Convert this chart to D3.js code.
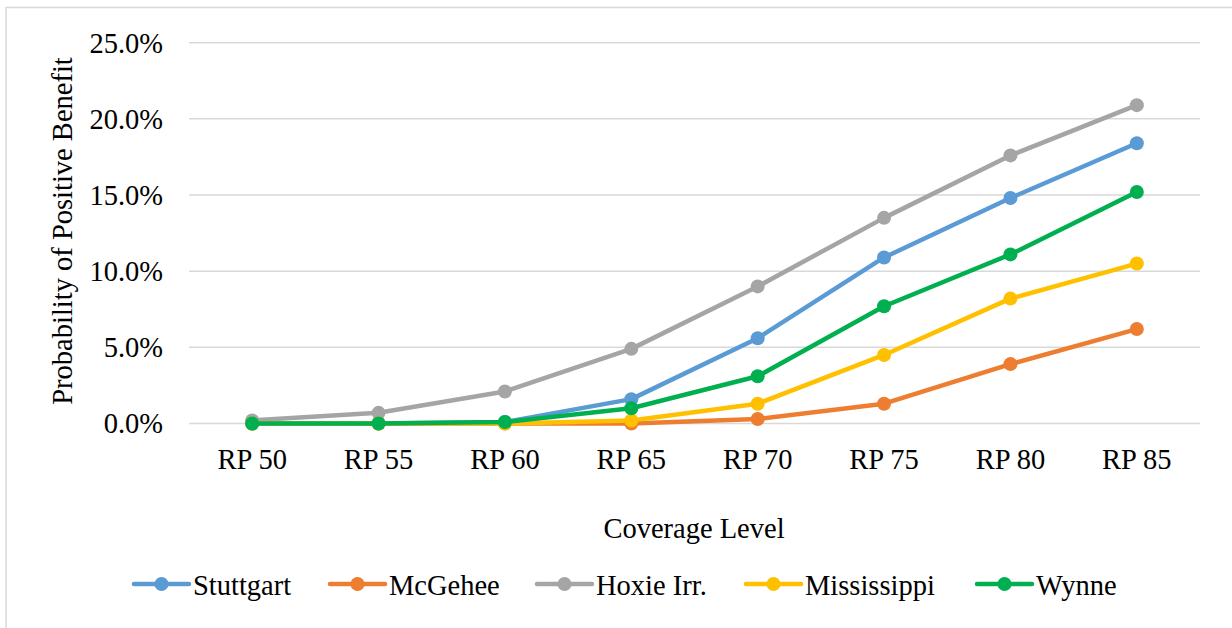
<!DOCTYPE html>
<html>
<head>
<meta charset="utf-8">
<script src="https://cdn.jsdelivr.net/npm/d3@7"></script>
<style>
  html, body { margin: 0; padding: 0; background: #fff; }
  svg { display: block; }
</style>
</head>
<body>
<svg id="chart" width="1232" height="628" font-family="Liberation Serif"></svg>
<script>
const categories = ["RP 50", "RP 55", "RP 60", "RP 65", "RP 70", "RP 75", "RP 80", "RP 85"];
const seriesNames = ["Stuttgart", "McGehee", "Hoxie Irr.", "Mississippi", "Wynne"];
const stuttgart   = [0.0, 0.0, 0.1, 1.6, 5.6, 10.9, 14.8, 18.4];
const mcgehee     = [0.0, 0.0, 0.0, 0.0, 0.3, 1.3, 3.9, 6.2];
const hoxie       = [0.2, 0.7, 2.1, 4.9, 9.0, 13.5, 17.6, 20.9];
const mississippi = [0.0, 0.0, 0.0, 0.2, 1.3, 4.5, 8.2, 10.5];
const wynne       = [0.0, 0.0, 0.1, 1.0, 3.1, 7.7, 11.1, 15.2];
const colors = ["#5B9BD5", "#ED7D31", "#A5A5A5", "#FFC000", "#00B050"];
const yTicks = [0, 5, 10, 15, 20, 25];
const xTitle = "Coverage Level";
const yTitle = "Probability of Positive Benefit";

const FONT = "Liberation Serif";
const FS = 28.5;

const seriesValues = [stuttgart, mcgehee, hoxie, mississippi, wynne];
const series = seriesNames.map((name, i) => ({ name, color: colors[i], values: seriesValues[i] }));

const svg = d3.select("#chart");

// outer chart border
svg.append("rect")
  .attr("x", 6).attr("y", 7.5)
  .attr("width", 1240).attr("height", 640)
  .attr("fill", "none").attr("stroke", "#d9d9d9").attr("stroke-width", 1.5);

const x = d3.scaleBand().domain(categories).range([189, 1200]);
const y = d3.scaleLinear().domain([0, 25]).range([423.5, 42.7]);

// gridlines
svg.append("g").selectAll("line").data(yTicks).join("line")
  .attr("x1", 189).attr("x2", 1200)
  .attr("y1", d => y(d)).attr("y2", d => y(d))
  .attr("stroke", "#d9d9d9").attr("stroke-width", 1.5);

// y axis labels
const yAxis = d3.axisLeft(y).tickValues(yTicks).tickSize(0).tickPadding(0)
  .tickFormat(d => d.toFixed(1) + "%");
const gy = svg.append("g").attr("transform", "translate(163,0)").call(yAxis)
  .attr("font-family", FONT).attr("font-size", FS);
gy.select(".domain").remove();
gy.selectAll("text").attr("font-family", FONT).attr("font-size", FS)
  .attr("fill", "#000").attr("dy", "0.33em");

// x axis labels
const xAxis = d3.axisBottom(x).tickSize(0).tickPadding(0);
const gx = svg.append("g").attr("transform", "translate(0,447)").call(xAxis)
  .attr("font-family", FONT).attr("font-size", FS);
gx.select(".domain").remove();
gx.selectAll("text").attr("font-family", FONT).attr("font-size", FS)
  .attr("fill", "#000").attr("dy", "0.76em");

// axis titles
svg.append("text").attr("x", 694).attr("y", 538).attr("text-anchor", "middle")
  .attr("font-family", FONT).attr("font-size", FS).text(xTitle);
svg.append("text").attr("transform", "translate(72,231) rotate(-90)")
  .attr("text-anchor", "middle")
  .attr("font-family", FONT).attr("font-size", FS).text(yTitle);

// lines
const line = d3.line()
  .x((d, i) => x(categories[i]) + x.bandwidth() / 2)
  .y(d => y(d));

const g = svg.append("g");
series.forEach(s => {
  const sg = g.append("g");
  sg.append("path").datum(s.values)
    .attr("d", line).attr("fill", "none")
    .attr("stroke", s.color).attr("stroke-width", 4.5)
    .attr("stroke-linejoin", "round").attr("stroke-linecap", "round");
  sg.selectAll("circle").data(s.values).join("circle")
    .attr("cx", (d, i) => x(categories[i]) + x.bandwidth() / 2)
    .attr("cy", d => y(d)).attr("r", 7)
    .attr("fill", s.color);
});

// legend
const legendX = [134, 330, 537, 746, 977];
const lg = svg.append("g");
series.forEach((s, i) => {
  const item = lg.append("g").attr("transform", `translate(${legendX[i]},584)`);
  item.append("line").attr("x1", 0).attr("x2", 55).attr("y1", 0).attr("y2", 0)
    .attr("stroke", s.color).attr("stroke-width", 4.5).attr("stroke-linecap", "round");
  item.append("circle").attr("cx", 27.5).attr("cy", 0).attr("r", 7).attr("fill", s.color);
  item.append("text").attr("x", 59).attr("y", 11)
    .attr("font-family", FONT).attr("font-size", FS).text(s.name);
});
</script>
</body>
</html>
